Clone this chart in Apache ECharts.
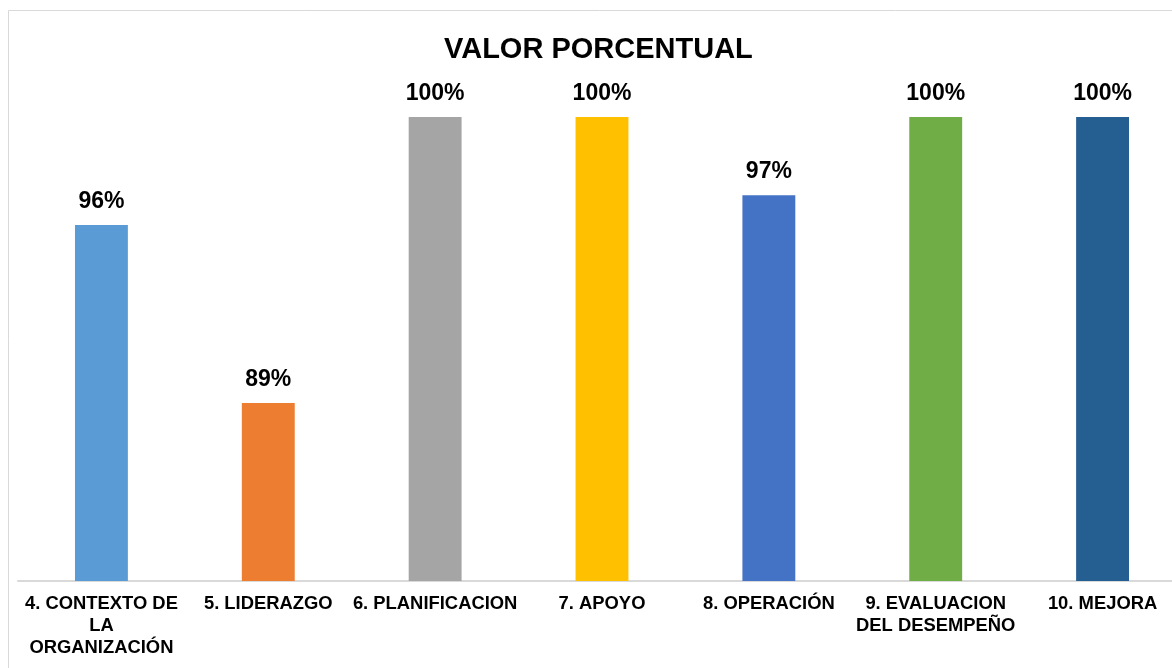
<!DOCTYPE html>
<html>
<head>
<meta charset="utf-8">
<script src="https://cdn.jsdelivr.net/npm/echarts@6/dist/echarts.min.js"></script>
<style>
html,body{margin:0;padding:0;background:#fff;overflow:hidden;width:1172px;height:668px;}
#chart{width:1190px;height:668px;}
</style>
</head>
<body>
<div id="chart"></div>
<script>
const categories = [
  "4. CONTEXTO DE\nLA\nORGANIZACIÓN",
  "5. LIDERAZGO",
  "6. PLANIFICACION",
  "7. APOYO",
  "8. OPERACIÓN",
  "9. EVALUACION\nDEL DESEMPEÑO",
  "10. MEJORA"
];
const values = [96, 89.4, 100, 100, 97.1, 100, 100];
const colors = ["#5B9BD5", "#ED7D31", "#A5A5A5", "#FFC000", "#4472C4", "#70AD47", "#255E91"];
const chartTitle = "VALOR PORCENTUAL";

const FONT = "'Liberation Sans', Arial, sans-serif";
const chart = echarts.init(document.getElementById('chart'), null, {renderer: 'canvas'});
chart.setOption({
  animation: false,
  backgroundColor: '#fff',
  graphic: [{
    type: 'rect',
    shape: {x: 8.5, y: 10.5, width: 1300, height: 800},
    style: {fill: 'none', stroke: '#d9d9d9', lineWidth: 1},
    silent: true
  }],
  title: {
    text: chartTitle,
    left: 439,
    top: 30,
    textStyle: {fontFamily: FONT, fontWeight: 'bold', fontSize: 29, color: '#000'}
  },
  grid: {left: 18, top: 117, bottom: 87, width: 1168},
  xAxis: {
    type: 'category',
    data: categories,
    axisLine: {show: true, lineStyle: {color: '#d9d9d9', width: 2}},
    axisTick: {show: false},
    axisLabel: {
      interval: 0,
      margin: 12,
      fontFamily: FONT,
      fontWeight: 'bold',
      fontSize: 18.4,
      lineHeight: 22,
      color: '#000',
      align: 'center'
    }
  },
  yAxis: {
    type: 'value',
    min: 82.8,
    max: 100,
    show: false,
    splitLine: {show: false}
  },
  series: [{
    type: 'bar',
    barWidth: '31.7%',
    data: values.map((v, i) => ({value: v, itemStyle: {color: colors[i]}})),
    label: {
      show: true,
      position: 'top',
      distance: 12,
      fontFamily: FONT,
      fontWeight: 'bold',
      fontSize: 23,
      color: '#000',
      formatter: p => Math.round(p.value) + '%'
    }
  }]
});
</script>
</body>
</html>
